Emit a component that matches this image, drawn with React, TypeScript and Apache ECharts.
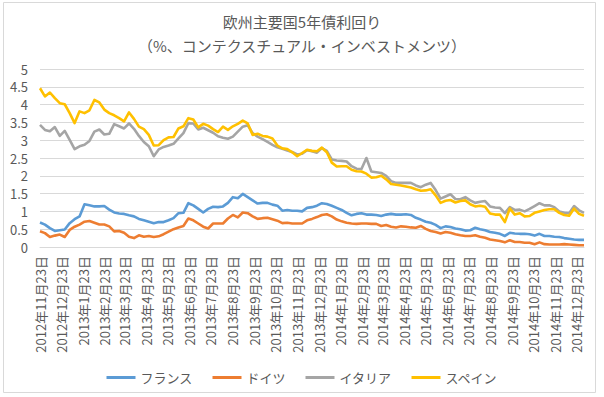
import React, { useEffect, useRef } from "react";
import * as echarts from "echarts";

const TITLE = "欧州主要国5年債利回り";
const SUBTITLE = "（%、コンテクスチュアル・インベストメンツ）";
const SERIES_NAMES = ["フランス", "ドイツ", "イタリア", "スペイン"];
const COLORS = ["#5B9BD5", "#ED7D31", "#A5A5A5", "#FFC000"];

// first observation date, weekly observations
const START_DATE = "2012-11-23";
const STEP_DAYS = 7;

const TICK_LABELS = [
  "2012年11月23日", "2012年12月23日", "2013年1月23日", "2013年2月23日", "2013年3月23日",
  "2013年4月23日", "2013年5月23日", "2013年6月23日", "2013年7月23日", "2013年8月23日",
  "2013年9月23日", "2013年10月23日", "2013年11月23日", "2013年12月23日", "2014年1月23日",
  "2014年2月23日", "2014年3月23日", "2014年4月23日", "2014年5月23日", "2014年6月23日",
  "2014年7月23日", "2014年8月23日", "2014年9月23日", "2014年10月23日", "2014年11月23日",
  "2014年12月23日",
];

const FRANCE = [
  0.69, 0.63, 0.53, 0.45, 0.47, 0.49, 0.67, 0.78, 0.86, 1.2,
  1.17, 1.14, 1.14, 1.15, 1.05, 0.97, 0.94, 0.93, 0.89, 0.86,
  0.79, 0.75, 0.71, 0.67, 0.7, 0.7, 0.75, 0.81, 0.95, 0.96,
  1.23, 1.17, 1.07, 0.97, 1.07, 1.13, 1.12, 1.14, 1.24, 1.4,
  1.37, 1.49, 1.4, 1.31, 1.22, 1.24, 1.24, 1.19, 1.16, 1.02,
  1.04, 1.02, 1.02, 1.0, 1.1, 1.12, 1.16, 1.23, 1.21, 1.16,
  1.1, 1.04, 0.96, 0.89, 0.93, 0.95, 0.91, 0.91, 0.9, 0.87,
  0.91, 0.93, 0.91, 0.91, 0.92, 0.9, 0.82, 0.77, 0.71, 0.68,
  0.62, 0.53, 0.58, 0.56, 0.52, 0.5, 0.46, 0.47, 0.54, 0.5,
  0.47, 0.42, 0.4, 0.37, 0.31, 0.4, 0.38, 0.37, 0.37, 0.36,
  0.32, 0.37, 0.31, 0.31, 0.29, 0.28, 0.25, 0.23, 0.21, 0.2,
  0.2,
];

const GERMANY = [
  0.44, 0.39, 0.28, 0.32, 0.35, 0.28, 0.48, 0.57, 0.63, 0.71,
  0.73, 0.68, 0.63, 0.63, 0.58, 0.44, 0.45, 0.4, 0.29, 0.25,
  0.33, 0.29, 0.31, 0.28, 0.3, 0.36, 0.43, 0.5, 0.55, 0.59,
  0.8, 0.75, 0.66, 0.57, 0.52, 0.66, 0.66, 0.66, 0.8, 0.9,
  0.83, 0.97, 0.95, 0.86, 0.79, 0.81, 0.82, 0.78, 0.74, 0.67,
  0.68, 0.66, 0.66, 0.66, 0.75, 0.79, 0.84, 0.9, 0.92, 0.86,
  0.77, 0.72, 0.68, 0.66, 0.65, 0.66, 0.66, 0.65, 0.65, 0.59,
  0.62, 0.57, 0.55, 0.58, 0.57, 0.55, 0.54, 0.59, 0.51, 0.45,
  0.42, 0.38, 0.42, 0.4, 0.36, 0.33, 0.31, 0.31, 0.33, 0.29,
  0.26, 0.21, 0.19, 0.17, 0.13, 0.19, 0.14, 0.14, 0.12, 0.12,
  0.08, 0.13, 0.08, 0.07, 0.07, 0.07, 0.08, 0.07, 0.06, 0.05,
  0.05,
];

const ITALY = [
  3.43, 3.29, 3.25, 3.37, 3.12, 3.26, 3.01, 2.75, 2.83, 2.87,
  2.98, 3.24, 3.3, 3.16, 3.18, 3.45, 3.39, 3.33, 3.47, 3.32,
  3.12, 2.95, 2.83, 2.55, 2.74, 2.81, 2.85, 2.9, 3.05, 3.2,
  3.48, 3.47, 3.3, 3.35, 3.28, 3.21, 3.11, 3.07, 3.04, 3.1,
  3.24, 3.38, 3.42, 3.2, 3.1, 3.03, 2.95, 2.87, 2.8, 2.76,
  2.71, 2.67, 2.6, 2.62, 2.72, 2.69, 2.65, 2.78, 2.7, 2.46,
  2.43, 2.42, 2.4, 2.27, 2.2, 2.19, 2.5, 2.12, 2.1, 2.08,
  2.0, 1.85, 1.8, 1.8, 1.8, 1.8, 1.73, 1.68, 1.75, 1.8,
  1.6, 1.36, 1.42, 1.48, 1.35, 1.34, 1.4, 1.31, 1.24, 1.27,
  1.29, 1.14, 1.11, 1.1, 0.95, 1.12, 1.04, 1.05, 1.0, 1.07,
  1.15, 1.23, 1.17, 1.17, 1.12, 1.0, 0.96, 0.95, 1.15, 1.03,
  0.96,
];

const SPAIN = [
  4.46, 4.23, 4.34, 4.18, 4.04, 4.01, 3.76, 3.48, 3.81, 3.76,
  3.84, 4.13, 4.06, 3.86, 3.76, 3.7, 3.62, 3.53, 3.78, 3.6,
  3.38, 3.31, 3.15, 2.85, 2.86, 3.0, 3.08, 3.09, 3.33, 3.39,
  3.62, 3.58, 3.36, 3.46, 3.41, 3.31, 3.23, 3.38, 3.29, 3.39,
  3.46, 3.55, 3.47, 3.15, 3.18, 3.12, 3.1, 3.05, 2.85, 2.77,
  2.75, 2.66, 2.55, 2.64, 2.73, 2.7, 2.69, 2.79, 2.66, 2.37,
  2.26, 2.27, 2.27, 2.17, 2.13, 2.12, 2.06, 1.95, 1.96, 2.0,
  1.9, 1.77, 1.75, 1.73, 1.7, 1.67, 1.62, 1.58, 1.59, 1.62,
  1.45, 1.24, 1.3, 1.32, 1.25, 1.29, 1.31, 1.2, 1.14, 1.16,
  1.13, 0.94, 0.91, 0.91, 0.7, 1.08, 0.91, 0.95, 0.86, 0.87,
  0.96, 1.0, 1.04, 1.06, 1.06, 0.96, 0.9, 0.88, 1.08, 0.93,
  0.88,
];

const SERIES_VALUES = [FRANCE, GERMANY, ITALY, SPAIN];

const Y_MIN = 0;
const Y_MAX = 5;
const Y_INTERVAL = 0.5;

const FONT = '"Noto Sans CJK JP", "Noto Sans", sans-serif';
const TEXT_COLOR = "#595959";

function startUTC() {
  const [y, m, d] = START_DATE.split("-").map(Number);
  return Date.UTC(y, m - 1, d);
}

function labelToDay(label: string) {
  const m = label.match(/(\d+)年(\d+)月(\d+)日/);
  if (!m) return 0;
  const t = Date.UTC(Number(m[1]), Number(m[2]) - 1, Number(m[3]));
  return Math.round((t - startUTC()) / 86400000);
}

export default function App() {
  const ref = useRef<HTMLDivElement>(null);

  useEffect(() => {
    if (!ref.current) return;
    const chart = echarts.init(ref.current, undefined, { renderer: "svg" });
    const tickDays = TICK_LABELS.map(labelToDay);

    const series = SERIES_NAMES.map((name, i) => ({
      name,
      type: "line",
      data: SERIES_VALUES[i].map((v, k) => [k * STEP_DAYS, v]),
      showSymbol: false,
      symbol: "none",
      lineStyle: { width: 2.6, color: COLORS[i], join: "round" },
      itemStyle: { color: COLORS[i] },
      z: 2 + i,
    }));

    chart.setOption({
      animation: false,
      backgroundColor: "#ffffff",
      color: COLORS,
      title: [
        {
          text: TITLE,
          left: "center",
          top: 9,
          textStyle: { fontFamily: FONT, fontSize: 15, fontWeight: "normal", color: TEXT_COLOR },
        },
        {
          text: SUBTITLE,
          left: "center",
          top: 33,
          textStyle: { fontFamily: FONT, fontSize: 15, fontWeight: "normal", color: TEXT_COLOR },
        },
      ],
      graphic: [
        {
          type: "rect",
          shape: { x: 3.5, y: 2.5, width: 592, height: 390 },
          style: { fill: "none", stroke: "#d9d9d9", lineWidth: 1 },
          silent: true,
          z: -1,
        },
      ],
      legend: {
        data: SERIES_NAMES,
        left: "center",
        top: 366,
        icon: "rect",
        itemWidth: 29,
        itemHeight: 3,
        itemGap: 20,
        textStyle: { fontFamily: FONT, fontSize: 13, color: TEXT_COLOR },
      },
      grid: { left: 40, right: 20, top: 69, bottom: 150, containLabel: false },
      xAxis: {
        type: "value",
        min: 0,
        max: "dataMax",
        splitLine: { show: false },
        axisTick: { show: false },
        axisLine: { show: true, lineStyle: { color: "#d9d9d9", width: 1 } },
        axisLabel: {
          customValues: tickDays,
          rotate: 90,
          margin: 9,
          fontFamily: FONT,
          fontSize: 13,
          color: TEXT_COLOR,
          formatter: (v: number) => {
            const idx = tickDays.indexOf(Math.round(v));
            return idx >= 0 ? TICK_LABELS[idx] : "";
          },
        },
      },
      yAxis: {
        type: "value",
        min: Y_MIN,
        max: Y_MAX,
        interval: Y_INTERVAL,
        axisLine: { show: false },
        axisTick: { show: false },
        splitLine: { lineStyle: { color: "#d9d9d9", width: 1 } },
        axisLabel: {
          margin: 12,
          fontFamily: FONT,
          fontSize: 13,
          color: TEXT_COLOR,
          formatter: (v: number) => String(v),
        },
      },
      series,
    });

    return () => chart.dispose();
  }, []);

  return (
    <div
      ref={ref}
      style={{ position: "fixed", left: 0, top: 0, width: 604, height: 397, background: "#fff" }}
    />
  );
}
